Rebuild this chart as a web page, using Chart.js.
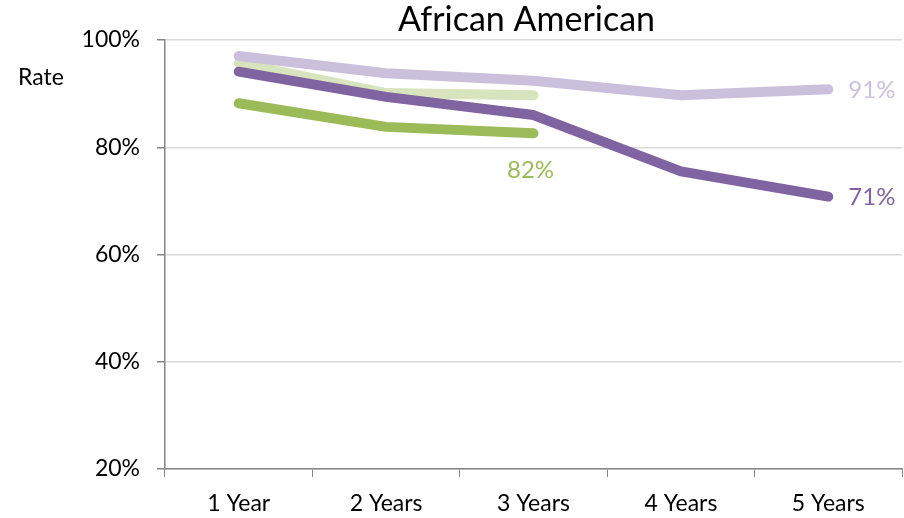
<!DOCTYPE html>
<html>
<head>
<meta charset="utf-8">
<script src="https://cdn.jsdelivr.net/npm/chart.js@4"></script>
<style>
  html, body { margin: 0; padding: 0; background: #fff; }
  #wrap { width: 904px; height: 518px; }
</style>
</head>
<body>
<div id="wrap"><canvas id="rates"></canvas></div>
<script>
const years = ['1 Year', '2 Years', '3 Years', '4 Years', '5 Years'];
const lightPurple = [97.0, 93.8, 92.4, 89.7, 90.8];
const darkPurple = [94.1, 89.4, 86.0, 75.5, 70.8];
const lightGreen = [95.7, 90.1, 89.7, null, null];
const darkGreen = [88.2, 83.8, 82.6, null, null];
const yTicks = [20, 40, 60, 80, 100];

const FONT = 'Lato, "Open Sans", sans-serif';

// end-of-line labels and the title / "Rate" caption
const extras = {
  id: 'extras',
  afterDatasetsDraw(chart) {
    const c = chart.ctx;
    const area = chart.chartArea;
    c.save();
    c.font = '34px ' + FONT;
    c.fillStyle = '#000';
    c.textAlign = 'center';
    c.textBaseline = 'middle';
    c.fillText('African American', (area.left + area.right) / 2 - 7, 20);

    c.font = '23px ' + FONT;
    c.textAlign = 'left';
    c.fillText('Rate', 18, 78);

    c.font = '24px ' + FONT;
    const lp = chart.getDatasetMeta(0).data[4];
    c.fillStyle = '#CBC0DC';
    c.fillText(Math.round(lightPurple[4]) + '%', lp.x + 20, lp.y + 1);
    const dp = chart.getDatasetMeta(1).data[4];
    c.fillStyle = '#8064A2';
    c.fillText(Math.round(darkPurple[4]) + '%', dp.x + 20, dp.y + 1);
    const dg = chart.getDatasetMeta(3).data[2];
    c.fillStyle = '#9BBB59';
    c.textAlign = 'center';
    c.fillText(Math.floor(darkGreen[2]) + '%', dg.x - 3, dg.y + 37);
    c.restore();
  }
};

const line = (data, color) => ({
  data: data,
  borderColor: color,
  borderWidth: 10,
  borderCapStyle: 'round',
  borderJoinStyle: 'round',
  pointRadius: 0,
  fill: false,
  tension: 0,
  spanGaps: false
});

new Chart(document.getElementById('rates'), {
  type: 'line',
  data: {
    labels: years,
    datasets: [
      line(lightPurple, '#CBC0DC'),
      line(darkPurple, '#8064A2'),
      line(lightGreen, '#D7E4BD'),
      line(darkGreen, '#9BBB59')
    ]
  },
  options: {
    responsive: true,
    maintainAspectRatio: false,
    animation: false,
    layout: { padding: { top: 40, right: 2, left: 0, bottom: 0 } },
    plugins: { legend: { display: false }, tooltip: { enabled: false } },
    scales: {
      x: {
        offset: true,
        grid: { offset: true, drawOnChartArea: false, tickColor: '#868686', tickLength: 8 },
        border: { color: '#868686', width: 1.5 },
        ticks: { color: '#000', font: { family: FONT, size: 23 }, padding: 13 },
        afterFit(s) { s.height = 49; }
      },
      y: {
        min: 20,
        max: 100,
        afterBuildTicks(s) { s.ticks = yTicks.map(v => ({ value: v })); },
        grid: { color: '#D9D9D9', lineWidth: 1.5, tickColor: '#868686', tickLength: 8 },
        border: { color: '#868686', width: 1.5 },
        ticks: {
          color: '#000',
          font: { family: FONT, size: 23 },
          padding: 17,
          callback: v => v + '%'
        },
        afterFit(s) { s.width = 165; }
      }
    }
  },
  plugins: [extras]
});
</script>
</body>
</html>
